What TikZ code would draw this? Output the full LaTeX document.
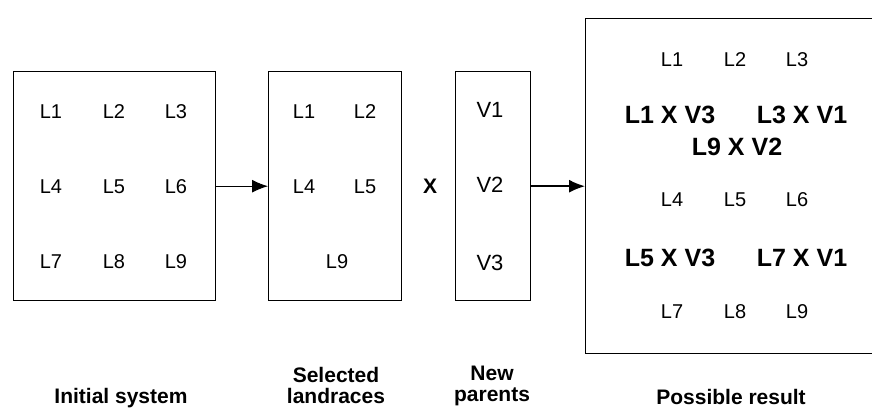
\documentclass[tikz,border=0pt]{standalone}
\usepackage{fontspec}
\setmainfont{Liberation Sans}
\usetikzlibrary{arrows.meta}

\begin{document}
\begin{tikzpicture}[
   x=1pt, y=-1pt,
   box/.style={draw, line width=1.4pt, anchor=north west, inner sep=0pt},
   flow/.style={-{Latex[length=16pt,width=13pt]}, line width=1pt},   % thin connector
   lbl/.style={font=\fontsize{20}{23}\selectfont, inner sep=0pt},    % single landrace
   vlbl/.style={font=\fontsize{22}{26}\selectfont, inner sep=0pt},   % new parent
   cross/.style={font=\bfseries\fontsize{25}{28}\selectfont, inner sep=0pt},
   captionstyle/.style={font=\bfseries\fontsize{21}{21}\selectfont, align=center, inner sep=0pt}
]

% frame of the whole figure (the result box runs off the right edge)
\useasboundingbox (0,0) rectangle (872,407);
\clip (0,0) rectangle (872,407);

% --- the four boxes
\node[box, minimum width=202pt, minimum height=229pt] (sysbox) at (13,71) {};
\node[box, minimum width=133pt, minimum height=229pt] (selbox) at (268,71) {};
\node[box, minimum width=75pt,  minimum height=229pt] (parbox) at (455,71) {};
\node[box, minimum width=300pt, minimum height=335pt] (resbox) at (585,18) {};

% --- initial system: nine landraces
\node[lbl] (s1) at (51,112)  {L1};
\node[lbl] (s2) at (114,112) {L2};
\node[lbl] (s3) at (176,112) {L3};
\node[lbl] (s4) at (51,187)  {L4};
\node[lbl] (s5) at (114,187) {L5};
\node[lbl] (s6) at (176,187) {L6};
\node[lbl] (s7) at (51,262)  {L7};
\node[lbl] (s8) at (114,262) {L8};
\node[lbl] (s9) at (176,262) {L9};

% --- selected landraces
\node[lbl] (c1) at (304,112) {L1};
\node[lbl] (c2) at (365,112) {L2};
\node[lbl] (c4) at (304,187) {L4};
\node[lbl] (c5) at (365,187) {L5};
\node[lbl] (c9) at (337,262) {L9};

% --- crossing sign and new parents
\node[font=\bfseries\fontsize{21}{24}\selectfont, inner sep=0pt] (times) at (430,186) {X};
\node[vlbl] (v1) at (490,110) {V1};
\node[vlbl] (v2) at (490,185) {V2};
\node[vlbl] (v3) at (490,263) {V3};

% --- possible result: landraces and crosses
\node[lbl] (r1) at (672,60)  {L1};
\node[lbl] (r2) at (735,60)  {L2};
\node[lbl] (r3) at (797,60)  {L3};
\node[cross] (x13) at (670,115) {L1 X V3};
\node[cross] (x31) at (802,115) {L3 X V1};
\node[cross] (x92) at (737,147) {L9 X V2};
\node[lbl] (r4) at (672,200) {L4};
\node[lbl] (r5) at (735,200) {L5};
\node[lbl] (r6) at (797,200) {L6};
\node[cross] (x53) at (670,258) {L5 X V3};
\node[cross] (x71) at (802,258) {L7 X V1};
\node[lbl] (r7) at (672,312) {L7};
\node[lbl] (r8) at (735,312) {L8};
\node[lbl] (r9) at (797,312) {L9};

% --- connectors
\draw[flow] (sysbox.east) -- (selbox.west);
\draw[flow, line width=1.5pt] (parbox.east) -- (resbox.west);

% --- captions under the boxes (base = last line)
\node[captionstyle, anchor=base] (syscap) at (121,403) {Initial system};
\node[captionstyle, anchor=base] (selcap) at (336,403) {Selected\\landraces};
\node[captionstyle, anchor=base] (parcap) at (492,401) {New\\parents};
\node[captionstyle, anchor=base] (rescap) at (731,404) {Possible result};

\end{tikzpicture}
\end{document}
